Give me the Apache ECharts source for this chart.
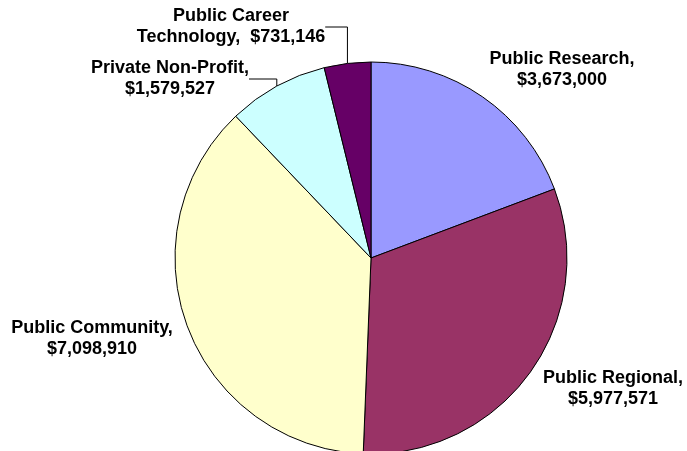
<!DOCTYPE html>
<html>
<head>
<meta charset="utf-8">
<script src="https://cdn.jsdelivr.net/npm/echarts@6/dist/echarts.min.js"></script>
<style>
  html, body { margin: 0; padding: 0; background: #fff; }
  #chart { width: 687px; height: 451px; }
</style>
</head>
<body>
<div id="chart"></div>
<script>
const names = [
  "Public Research",
  "Public Regional",
  "Public Community",
  "Private Non-Profit",
  "Public Career\nTechnology",
];
const values = [3673000, 5977571, 7098910, 1579527, 731146];
const colors = ["#9999FF", "#993366", "#FFFFCC", "#CCFFFF", "#660066"];

// where each label sits (centre of text block)
const labelSpots = [
  [562, 70],
  [613, 389],
  [92, 339],
  [170, 79],
  [231, 27],
];
const showLine = [false, false, false, true, true];

const chart = echarts.init(document.getElementById("chart"));

const fmt = (v) => "$" + v.toLocaleString("en-US");

chart.setOption({
  animation: false,
  series: [
    {
      type: "pie",
      center: [371, 258],
      radius: 196,
      startAngle: 90,
      clockwise: true,
      itemStyle: { borderColor: "#000", borderWidth: 1 },
      label: {
        show: true,
        position: "outside",
        overflow: "none",
        color: "#000",
        fontFamily: "Liberation Sans, Arial, sans-serif",
        fontWeight: "bold",
        fontSize: 18,
        lineHeight: 21,
        align: "center",
        formatter: (p) =>
          p.name + (p.name.includes("\n") ? ",  " : ",\n") + fmt(p.value),
      },
      labelLine: {
        lineStyle: { color: "#000", width: 1 },
      },
      labelLayout: (p) => ({
        x: labelSpots[p.dataIndex][0],
        y: labelSpots[p.dataIndex][1],
        align: "center",
        verticalAlign: "middle",
      }),
      data: names.map((n, i) => ({
        name: n,
        value: values[i],
        itemStyle: { color: colors[i] },
        labelLine: { show: showLine[i] },
      })),
    },
  ],
});
</script>
</body>
</html>
